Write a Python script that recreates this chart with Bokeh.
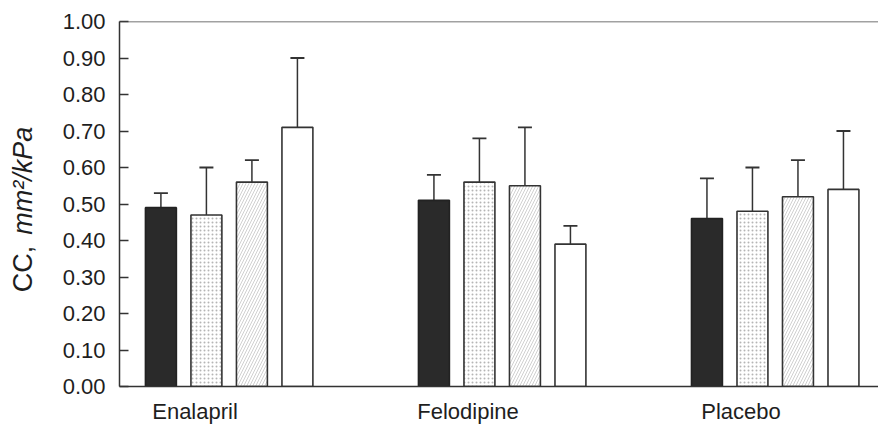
import math
from bokeh.plotting import figure
from bokeh.layouts import row
from bokeh.models import (Range1d, FixedTicker, NumeralTickFormatter, Whisker, TeeHead,
                          ColumnDataSource, Span)
from bokeh.core.properties import value
from bokeh.embed import file_html
from bokeh.resources import INLINE

groups = ["Enalapril", "Felodipine", "Placebo"]
s1 = [0.49, 0.51, 0.46]
s2 = [0.47, 0.56, 0.48]
s3 = [0.56, 0.55, 0.52]
s4 = [0.71, 0.39, 0.54]
e1 = [0.53, 0.58, 0.57]
e2 = [0.60, 0.68, 0.60]
e3 = [0.62, 0.71, 0.62]
e4 = [0.90, 0.44, 0.70]
y_ticks = [0.0, 0.1, 0.2, 0.3, 0.4, 0.5, 0.6, 0.7, 0.8, 0.9, 1.0]
y_title_plain = "CC,"
y_title_italic = "mm²/kPa"

series = [s1, s2, s3, s4]
errs = [e1, e2, e3, e4]

p = figure(width=828, height=426, output_backend="svg", toolbar_location=None,
           x_range=Range1d(-0.91, 15.77), y_range=Range1d(0, 1.0),
           min_border_left=69, min_border_right=0, min_border_top=21, min_border_bottom=39)
p.outline_line_color = None
p.grid.grid_line_color = None
p.background_fill_color = "white"

line_col = "#333333"
styles = [
    dict(fill_color="#2a2a2a", line_color="#222222"),
    dict(fill_color="white", line_color=line_col, hatch_pattern="dot", hatch_color="#b5b5b5",
         hatch_scale=4, hatch_weight=1.2),
    dict(fill_color="white", line_color=line_col, hatch_pattern="right_diagonal_line",
         hatch_color="#c4c4c4", hatch_scale=6, hatch_weight=0.8),
    dict(fill_color="white", line_color=line_col),
]

for b, (vals, ups, st) in enumerate(zip(series, errs, styles)):
    xs = [6 * g + b for g in range(len(groups))]
    src = ColumnDataSource(dict(x=xs, top=vals, upper=ups))
    p.vbar(x="x", top="top", bottom=0, width=0.68, source=src, line_width=1.6, **st)
    w = Whisker(base="x", lower="top", upper="upper", source=src,
                line_color=line_col, line_width=1.5,
                upper_head=TeeHead(size=14, line_color=line_col, line_width=1.8),
                lower_head=None)
    p.add_layout(w)

p.add_layout(Span(location=1.0, dimension="width", line_color="#444444", line_width=1.5))

# y axis
ya = p.yaxis[0]
ya.ticker = FixedTicker(ticks=y_ticks)
ya.formatter = NumeralTickFormatter(format="0.00")
ya.major_tick_in = 9
ya.major_tick_out = 0
ya.minor_tick_line_color = None
ya.axis_line_color = "#333333"
ya.axis_line_width = 1.5
ya.major_tick_line_color = "#333333"
ya.major_tick_line_width = 1.5
ya.major_label_text_font = "Liberation Sans"
ya.major_label_text_font_size = "22px"
ya.major_label_text_color = "#1e1e1e"
ya.major_label_standoff = 14

# x axis
xa = p.xaxis[0]
xa.ticker = FixedTicker(ticks=[6 * g + 0.75 for g in range(len(groups))])
xa.major_label_overrides = {6 * g + 0.75: name for g, name in enumerate(groups)}
xa.major_tick_line_color = None
xa.minor_tick_line_color = None
xa.axis_line_color = "#333333"
xa.axis_line_width = 1.5
xa.major_label_text_font = "Liberation Sans"
xa.major_label_text_font_size = "22px"
xa.major_label_text_color = "#1e1e1e"
xa.major_label_standoff = 6

# left strip holding the y axis title (plain + italic parts)
t = figure(width=50, height=426, output_backend="svg", toolbar_location=None,
           x_range=Range1d(0, 50), y_range=Range1d(0, 426),
           min_border_left=0, min_border_right=0, min_border_top=0, min_border_bottom=0)
t.axis.visible = False
t.grid.grid_line_color = None
t.outline_line_color = None
t.text(x=[22], y=[110], text=[y_title_plain], angle=math.pi / 2, text_align="left",
       text_baseline="middle", text_font=value("Liberation Sans"), text_font_size="27px",
       text_color="#1e1e1e")
t.text(x=[22], y=[177], text=[y_title_italic], angle=math.pi / 2, text_align="left",
       text_baseline="middle", text_font=value("Liberation Sans"), text_font_size="27px",
       text_font_style="italic", text_color="#1e1e1e")

layout = row(t, p, spacing=0)
open("out.html", "w").write(file_html(layout, INLINE))
